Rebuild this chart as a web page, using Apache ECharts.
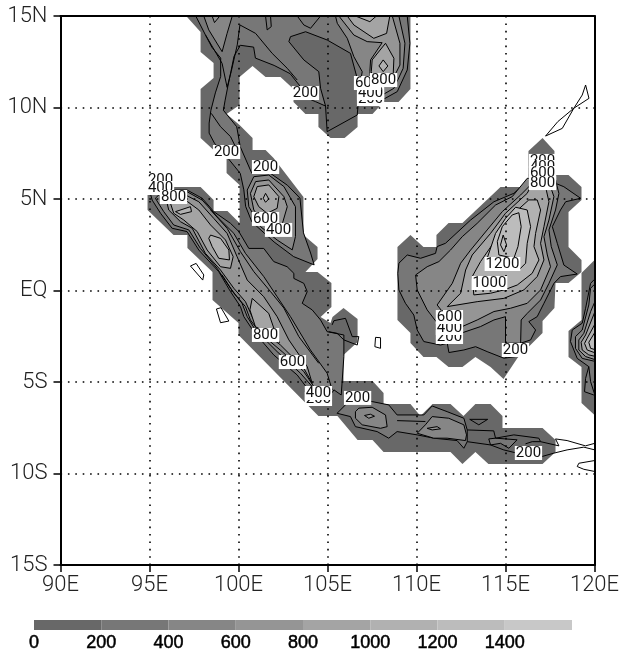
<!DOCTYPE html>
<html>
<head>
<meta charset="utf-8">
<style>html,body{margin:0;padding:0;background:#fff}#c{width:619px;height:651px}</style>
<script src="https://cdn.jsdelivr.net/npm/echarts@6/dist/echarts.min.js"></script>
</head>
<body>
<div id="c"></div>
<script>
const xTickLabels = ['90E','95E','100E','105E','110E','115E','120E'];
const yTickLabels = ['15S','10S','5S','EQ','5N','10N','15N'];
const levels = [0,200,400,600,800,1000,1200,1400];
const levelColors = ['#686868','#777777','#868686','#959595','#a4a4a4','#b1b1b1','#bcbcbc','#c8c8c8'];

// --- outermost shaded region (lon, lat) ---
const fillMain = [[97.06,15],[97.87,14.13],[97.87,13.03],[98.6,12.43],[98.6,11.61],[97.87,11.01],[97.87,8.33],[98.6,7.68],[99.33,7.68],[99.33,6.42],[100.06,5.77],[100.06,3.69],[99.38,4.34],[98.6,4.34],[98.6,4.95],[97.87,5.66],[95.06,5.66],[94.89,5.33],[94.89,4.4],[96.35,3.03],[97.13,3.03],[97.13,2.32],[98.54,1.01],[98.54,-0.52],[100,-1.78],[100,-2.43],[103.88,-6.26],[104.49,-6.86],[105.56,-6.86],[106.69,-8.17],[107.53,-8.17],[108.15,-8.83],[111.91,-8.83],[112.58,-9.48],[113.31,-8.83],[114.04,-9.48],[117.08,-9.48],[117.81,-8.83],[117.81,-8.17],[117.08,-7.51],[114.83,-7.51],[114.83,-6.86],[114.16,-6.2],[113.31,-6.2],[112.64,-6.86],[111.91,-6.2],[110.9,-6.2],[110.22,-6.86],[109.66,-6.2],[108.15,-6.2],[108.15,-5.6],[107.53,-4.95],[105.9,-4.95],[105.9,-3.52],[106.69,-2.81],[106.69,-1.56],[105.9,-0.96],[105.28,-1.45],[105.17,-1.78],[104.61,-1.45],[105.22,-0.9],[105.22,0.41],[104.44,1.01],[103.76,1.01],[104.44,1.72],[104.44,2.38],[103.65,3.03],[103.65,5.11],[101.97,7.24],[101.52,7.68],[100.79,7.68],[100.79,8.33],[100.06,9.04],[99.33,9.64],[100.06,10.14],[100.06,11.67],[100.79,12.27],[101.52,11.67],[102.36,11.67],[103.09,11.01],[103.09,10.3],[103.76,9.64],[104.49,9.64],[104.49,8.93],[105.17,8.33],[105.96,8.33],[106.69,8.93],[106.69,9.64],[107.53,9.64],[108.15,10.3],[108.99,10.3],[109.66,11.01],[109.66,15]];
const fillBorneo = [[117.08,8.33],[117.75,7.62],[117.75,6.31],[118.54,6.31],[119.27,5.66],[119.27,4.95],[118.54,4.29],[118.54,2.38],[119.27,1.67],[119.27,1.01],[118.54,0.41],[117.81,0.41],[117.75,-0.96],[117.08,-1.67],[117.08,-2.32],[116.29,-3.09],[115.67,-3.69],[114.89,-4.84],[114.16,-4.18],[113.31,-3.63],[112.58,-4.18],[111.8,-4.18],[111.12,-3.63],[110.39,-3.63],[109.66,-2.87],[109.66,-2.32],[108.93,-1.61],[108.93,2.38],[109.66,3.03],[110.39,2.38],[111.12,2.38],[111.12,3.03],[111.8,3.69],[112.58,3.69],[114.72,5.66],[116.29,5.66],[116.29,7.62]];
const fillSulawesi = [[120,1.67],[119.27,0.96],[119.27,-1.61],[118.54,-2.21],[118.54,-3.63],[119.27,-4.18],[119.27,-6.15],[120,-6.8]];

// --- Indochina / Malay peninsula ---
const n200 = [[97.6,15],[98.15,13.95],[98.5,13.3],[99,12.7],[99,11.7],[98.7,10.8],[98.45,9.85],[98.35,9.15],[98.35,8.6],[98.65,8.05],[99.35,7.3],[100.1,6.4],[100.3,5.5],[100.4,4.6],[100.75,3.75],[102,2.65],[103.1,1.85],[104.25,1.4],[104.05,2.05],[103.65,3.15],[103.45,5.05],[102.75,5.75],[101.8,6.4],[100.75,6.4],[100.1,7.85],[99.9,8.95],[99.15,9.85],[99.25,10.4],[99.4,11.15],[99.75,12.8],[100.1,13.4],[100.85,13.3],[100.95,12.7],[102,12.3],[102.9,11.85],[103.48,11.14],[103.67,10.59],[104.33,10.32],[104.89,10.08],[104.61,11.05],[104.51,11.96],[103.67,12.6],[102.83,13.6],[102.92,13.87],[103.77,14.14],[104.98,13.69],[106.29,12.96],[106.67,11.59],[106.76,10.96],[106.86,10.41],[108.07,10.41],[108.92,10.87],[109.48,12.05],[109.63,13.51],[109.48,15]];
const n400West = [[98.05,15],[98.33,14.24],[99.08,13.05],[99.36,14.05],[99.65,15]];
const n600West = [[98.52,15],[98.65,14.64],[98.95,15]];
const n400East = [[105.45,15],[105.55,14.6],[106.11,13.78],[106.48,12.78],[106.95,11.96],[106.86,11.41],[106.86,10.68],[108.07,10.68],[108.73,11.05],[109.25,12.14],[109.35,13.51],[109.01,15]];
const n600East = [[105.64,15],[106.48,13.96],[107.23,13.6],[108.07,13.54],[107.42,12.6],[107.38,11.96],[107.42,11.5],[108.64,11.5],[109.07,12.32],[109.07,13.51],[108.64,15]];
const n800Top = [[106.11,15],[106.48,14.51],[107.6,13.78],[108.32,14.05],[108.5,15]];
const n800Low = [[108.26,13.51],[108.73,12.69],[108.69,11.78],[107.6,11.5],[107.46,11.96],[107.51,12.6]];
const n1000Top = [[106.57,15],[107.38,14.69],[107.75,15]];
const n1000Low = [[108.13,12.6],[108.39,12.27],[108.13,11.96],[107.89,12.27]];
const nBandLine = [[98.15,13.96],[99.08,12.41],[99.36,11.1],[99.59,11.96],[99.93,13.42],[100.08,14.51],[100.96,14.05],[101.89,12.96],[102.74,12.14],[103.3,11.5]];
const nSagLine = [[104.89,10.08],[104.98,8.68],[106.67,9.59],[106.76,10.59]];
const nLobeLine = [[101.52,15],[101.61,14.24],[101.84,14.42],[101.8,15]];
const nArcLine = [[103.3,15],[103.67,14.51],[104.05,14.33],[104.61,15]];
const nStripLine = [[98.47,9.68],[98.99,8.95],[99.55,8.41],[99.83,7.86]];
const m400 = [[100.86,6.22],[100.49,5.49],[100.58,4.58],[101.24,3.49],[102.17,2.76],[103.02,2.22],[103.2,2.95],[103.2,4.58],[102.55,5.68],[101.7,6.31]];
const m600 = [[100.96,5.95],[100.67,5.31],[100.86,4.4],[101.42,3.67],[102.36,3.31],[102.74,4.58],[102.55,5.13],[101.7,6.04]];
const m800 = [[101.05,5.68],[100.86,5.13],[101.14,4.58],[101.61,4.22],[102.17,4.49],[102.27,5.13],[101.7,5.77]];
const m1000 = [[101.52,5.31],[101.7,5],[101.52,4.82],[101.39,5.04]];

// --- Sumatra ---
const s200 = [[95.05,5.31],[95.71,5.49],[97.11,5.49],[97.96,5.04],[98.61,4.31],[99.55,3.67],[100.02,3.22],[100.58,2.3],[101.42,2.3],[101.98,1.58],[102.73,1.3],[103.11,0.94],[103.11,0.66],[103.67,0.39],[103.86,-0.06],[103.58,-0.7],[104.14,-1.06],[104.61,-1.61],[104.98,-2.25],[105.92,-2.43],[105.92,-3.61],[105.77,-5.71],[105.36,-5.43],[104.98,-5.98],[103.86,-5.34],[103.3,-4.62],[101.98,-3.52],[100.86,-2.25],[100.3,-1.43],[100.11,-0.88],[99.55,-0.06],[98.89,1.03],[97.77,2.21],[97.11,3.22],[96.27,3.4],[95.62,4.22],[95.15,4.94]];
const s400 = [[95.71,5.4],[97.11,5.4],[97.96,4.94],[98.89,3.94],[99.74,3.12],[100.39,2.03],[101.42,0.76],[102.17,-0.34],[102.92,-1.43],[104.04,-3.25],[104.98,-4.52],[105.26,-5.43],[104.89,-5.43],[104.14,-5.25],[103.48,-4.52],[102.17,-3.34],[100.95,-2.16],[100.49,-1.43],[100.2,-0.7],[99.55,0.12],[98.8,1.21],[97.86,2.3],[97.21,3.31],[96.36,3.58],[95.8,4.31],[95.33,5.04]];
const s600 = [[95.9,5.13],[97.02,5.22],[97.77,4.85],[98.61,3.94],[99.36,3.12],[99.92,1.85],[100.49,0.57],[101.42,-0.34],[102.17,-1.43],[102.83,-2.7],[103.86,-4.16],[104.14,-5.07],[103.67,-4.25],[102.36,-2.98],[101.05,-1.98],[100.77,-1.43],[100.39,-0.61],[99.74,0.12],[98.99,1.12],[98.14,2.03],[97.4,3.4],[96.74,3.76],[96.08,4.4]];
const s800North = [[96.18,4.76],[97.02,4.94],[97.77,4.4],[98.43,3.58],[99.27,2.76],[99.7,1.85],[99.55,1.21],[98.99,1.3],[98.24,2.21],[97.68,3.22],[96.93,3.85],[96.36,4.22]];
const s800South = [[100.77,-0.43],[101.7,-1.25],[102.02,-2.16],[102.3,-2.85],[101.7,-2.34],[100.95,-1.98],[100.64,-1.06]];
const s1000A = [[96.46,4.31],[97.3,4.58],[97.36,4.31],[96.74,4.16]];
const s1000B = [[98.43,3.03],[98.99,2.85],[99.46,2.21],[99.49,1.67],[98.89,1.76],[98.52,2.4],[98.33,2.85]];
const sFlankEast = [[98.43,4.4],[99.36,3.4],[100.11,2.12],[100.86,1.03],[101.8,-0.06],[102.55,-0.96],[103.39,-2.52],[104.51,-3.98]];
const sFlankWest = [[99.08,0.85],[99.74,-0.15],[100.39,-0.88],[100.67,-1.61],[101.23,-2.34],[102.45,-3.34],[103.67,-4.43],[104.23,-5.25]];

// --- coast fragments without shading ---
const islandA = [[97.3,1.34],[97.62,1.48],[98.05,0.85],[97.99,0.57]];
const islandB = [[98.76,-1.01],[99.02,-0.94],[99.46,-1.67],[98.99,-1.76]];
const islandC = [[107.7,-2.56],[107.98,-2.58],[107.98,-3.16],[107.66,-3.07]];
const bangkaLine = [[105.26,-1.88],[105.36,-1.65],[106.01,-1.52],[106.39,-2.52],[106.76,-2.52],[106.67,-2.98],[105.92,-2.7],[105.54,-2.34],[105.07,-2.25]];
const palawanLine = [[119.31,10.68],[119.5,11.23],[119.69,10.5],[118.84,9.96],[118.19,8.86],[117.25,8.44],[117.94,9.23],[118.84,9.96],[119.31,10.68]];

// --- Java ---
const j200 = [[105.54,-6.71],[106.01,-6.25],[106.01,-5.71],[107.51,-6.07],[108.44,-6.25],[108.91,-6.8],[110.41,-6.8],[110.88,-6.31],[111.72,-6.62],[112.66,-6.98],[112.85,-7.62],[112.85,-8.26],[112.66,-8.62],[112.28,-8.2],[110.97,-8.07],[110.04,-7.89],[108.91,-7.71],[108.44,-8.07],[107.79,-7.71],[106.57,-7.44],[106.29,-6.89]];
const j400West = [[106.76,-6.43],[107.51,-6.38],[108.26,-6.8],[108.35,-7.44],[107.98,-7.53],[106.95,-7.34],[106.57,-6.98],[106.57,-6.62]];
const j600West = [[107.08,-6.83],[107.41,-6.76],[107.64,-6.87],[107.32,-6.98]];
const j400Mid = [[110.04,-7.8],[110.5,-7.34],[110.88,-6.89],[111.81,-6.98],[112.66,-7.34],[112.81,-7.89],[112.75,-8.2],[111.72,-8.07],[110.97,-8.07]];
const j600Mid = [[110.6,-7.53],[111.16,-7.44],[111.35,-7.56],[110.88,-7.62]];
const j200East = [[114.06,-8.11],[114.44,-8.07],[115.65,-8.16],[115.19,-8.62],[114.72,-8.35],[114.16,-8.44]];
const jLineA = [[108.91,-7.11],[110.5,-7.16]];
const jLineB = [[112.85,-7.62],[114.34,-7.67],[114.44,-8.07]];
const jLineB2 = [[114.16,-8.44],[112.85,-8.26]];
const jLineC = [[114.16,-8.44],[114.9,-8.71],[115.65,-8.89],[117.06,-9.07],[117.71,-8.89],[118.46,-8.71],[119.4,-8.56],[120.02,-8.71]];
const jLineD = [[114.44,-8.07],[115.47,-7.89],[116.87,-8.07],[116.97,-8.26],[118,-8.49],[117.81,-8.11],[118.46,-8.2],[119.49,-8.49],[120.02,-8.35]];
const jHook = [[116.12,-8.38],[116.5,-8.26],[116.97,-8.26]];
const jTriangle = [[112.99,-7.04],[114,-7.04],[113.5,-7.34]];
const jIslandLine = [[120.02,-9.29],[119.12,-9.44],[119.03,-9.62],[119.4,-9.77],[120.02,-9.89]];

// --- Borneo ---
const b200 = [[108.95,0.94],[109.01,1.49],[109.48,1.94],[110.23,1.76],[111.07,2.03],[111.16,2.4],[111.63,2.58],[113.04,3.85],[114.35,4.85],[115.47,5.31],[116.31,6.04],[117.35,6.04],[118.28,5.67],[119.22,5.04],[118.38,4.85],[118.09,4.4],[117.63,3.49],[117.91,2.58],[118.28,1.39],[119.03,0.9],[118.09,0.76],[117.72,0.39],[117.16,-0.7],[116.78,-1.43],[116.31,-1.7],[116.69,-2.16],[116.41,-2.7],[115.85,-2.88],[115.57,-3.61],[114.91,-3.7],[113.97,-3.34],[113.32,-3.07],[112.66,-3.25],[111.82,-3.39],[111.73,-2.88],[111.35,-2.98],[110.41,-2.79],[110.04,-2.16],[109.85,-1.34],[109.38,-0.7],[109.01,0.03]];
const b400 = [[109.95,0.85],[110.6,1.3],[111.26,1.58],[111.91,2.21],[112.57,2.94],[113.41,3.67],[114.44,4.67],[115.38,5.13],[116.22,6.13],[117.81,6.04],[118,5.3],[117.81,4.4],[117.44,3.31],[117.57,2.4],[117.91,1.4],[117.44,0.39],[116.97,-0.52],[116.22,-1.25],[115.88,-1.61],[115.85,-2.88],[115,-2.88],[115,-1.43],[114.35,-1.61],[113.6,-1.97],[112.48,-2.34],[111.82,-2.61],[110.6,-1.06],[110.04,0.03]];
const b600 = [[111.16,-0.79],[112.01,0.39],[112.48,1.49],[113.04,2.21],[113.97,3.31],[114.82,4.31],[115.85,5.22],[116.41,5.77],[117.53,5.67],[117.72,5.13],[117.44,3.85],[117.16,2.94],[117.35,1.94],[117.53,1.3],[116.97,0.03],[116.22,-0.7],[115.28,-0.97],[114.35,-1.15],[113.41,-1.61],[112.57,-1.97],[111.82,-1.61]];
const b800 = [[111.73,-0.88],[112.48,-0.15],[112.76,1.12],[113.13,1.94],[114.16,3.12],[115,4.22],[116.22,5.31],[116.41,5.67],[117.25,5.67],[117.44,4.85],[117.16,3.49],[116.97,2.58],[117.16,1.67],[116.78,0.76],[116.03,0.03],[114.91,-0.43],[113.41,-0.61]];
const b1000 = [[113.22,-0.24],[113.13,0.76],[113.6,1.58],[114.44,2.76],[115.28,4.04],[116.31,4.95],[116.78,4.95],[116.97,4.4],[116.69,3.12],[116.6,2.4],[116.88,1.67],[116.5,0.94],[115.66,0.3],[114.91,0.03],[114.16,-0.15]];
const b1200 = [[113.97,1.76],[114.44,3.12],[115,3.94],[115.57,4.55],[116.22,4.4],[116.41,3.49],[116.22,2.58],[116.13,1.49],[115.75,1.12],[113.97,1.12]];
const b1400 = [[114.63,1.94],[114.54,2.67],[114.82,3.49],[115.38,4.13],[115.75,4.25],[115.88,3.49],[115.7,2.4],[115.47,1.76]];
const bDiamond = [[114.87,3.03],[115.06,2.49],[114.91,2.12],[114.72,2.49]];

// --- Sulawesi ---
const su200 = [[120.1,0.57],[119.96,0.57],[119.78,0.39],[119.5,-0.97],[119.31,-1.79],[118.75,-2.16],[118.65,-2.79],[119.03,-3.71],[119.68,-4.16],[119.5,-4.8],[119.44,-5.53],[119.96,-5.71],[120.1,-5.71]];
const su400 = [[120.1,0.3],[119.96,0.3],[119.78,0.12],[119.68,-0.79],[119.31,-2.16],[118.93,-2.52],[118.93,-3.16],[119.31,-3.71],[120.1,-3.89]];
const su600 = [[120.1,-0.43],[119.78,-1.16],[119.4,-2.34],[119.12,-2.7],[119.12,-3.25],[119.5,-3.61],[120.1,-3.8]];
const su800 = [[120.1,-0.97],[119.5,-2.43],[119.25,-2.83],[119.31,-3.25],[119.68,-3.52],[120.1,-3.61]];
const su1000 = [[120.1,-1.7],[119.59,-2.61],[119.44,-2.89],[119.59,-3.25],[120.1,-3.43]];
const su1200 = [[120.1,-2.16],[119.68,-2.83],[119.78,-3.16],[120.1,-3.25]];
const suLine = [[119.68,-4.16],[119.78,-4.98],[120.02,-5.71]];

// --- in-line contour labels: lon, lat, text ---
const contourLabels = [
 [103.76,10.79,'200'],[107.42,10.46,'200'],[107.42,10.79,'400'],[107.25,11.34,'600'],[108.15,11.5,'800'],
 [99.33,7.57,'200'],[101.52,6.75,'200'],[101.52,3.91,'600'],[102.25,3.31,'400'],
 [95.62,6.04,'200'],[95.62,5.6,'400'],[96.35,5.11,'800'],
 [101.52,-2.43,'800'],[103.03,-3.91,'600'],[104.49,-5.93,'200'],[104.49,-5.6,'400'],
 [106.69,-5.87,'200'],[116.29,-8.88,'200'],
 [117.08,7.08,'200'],[117.08,6.75,'400'],[117.08,6.42,'600'],[117.08,5.87,'800'],
 [114.83,1.45,'1200'],[114.1,0.41,'1000'],
 [111.85,-2.54,'200'],[111.85,-2.05,'400'],[111.85,-1.45,'600'],[115.56,-3.25,'200']
];

// paint order: level index (-1 = unfilled), points, closed, outlined
const shapes = [
 [0,fillMain,1,0],[0,fillBorneo,1,0],[0,fillSulawesi,1,0],
 [1,n200,1,1],[2,n400West,1,1],[3,n600West,1,1],[2,n400East,1,1],[3,n600East,1,1],[4,n800Top,1,1],[4,n800Low,1,1],[5,n1000Top,1,1],[5,n1000Low,1,1],
 [2,m400,1,1],[3,m600,1,1],[4,m800,1,1],[5,m1000,1,1],
 [1,s200,1,1],[2,s400,1,1],[3,s600,1,1],[4,s800North,1,1],[4,s800South,1,1],[5,s1000A,1,1],[5,s1000B,1,1],
 [1,j200,1,1],[2,j400West,1,1],[3,j600West,1,1],[2,j400Mid,1,1],[3,j600Mid,1,1],[1,j200East,1,1],
 [1,b200,1,1],[2,b400,1,1],[3,b600,1,1],[4,b800,1,1],[5,b1000,1,1],[6,b1200,1,1],[6,b1400,1,1],[6,bDiamond,1,1],
 [1,su200,1,1],[2,su400,1,1],[3,su600,1,1],[4,su800,1,1],[5,su1000,1,1],[6,su1200,1,1],
 [-1,islandA,1,1],[-1,islandB,1,1],[-1,islandC,1,1],[-1,jTriangle,1,1],
 [-1,nBandLine,0,1],[-1,nSagLine,0,1],[-1,nLobeLine,0,1],[-1,nArcLine,0,1],[-1,nStripLine,0,1],
 [-1,sFlankEast,0,1],[-1,sFlankWest,0,1],
 [-1,bangkaLine,0,1],[-1,palawanLine,0,1],[-1,jLineA,0,1],[-1,jLineB,0,1],[-1,jLineB2,0,1],[-1,jLineC,0,1],[-1,jLineD,0,1],[-1,jHook,0,1],[-1,jIslandLine,0,1],[-1,suLine,0,1]
];

const tickFont = {fontFamily:'Roboto',fontWeight:300,fontSize:22,color:'#222'};
const chart = echarts.init(document.getElementById('c'),null,{renderer:'canvas'});
chart.setOption({
  animation:false,
  backgroundColor:'#fff',
  grid:[
    {left:60.5,top:16,width:534,height:549,containLabel:false,outerBoundsMode:'none'},
    {left:34,top:620,width:538,height:10,containLabel:false,outerBoundsMode:'none'}
  ],
  xAxis:[
    {type:'value',gridIndex:0,position:'bottom',min:90,max:120,interval:5,z:5,
      axisLine:{onZero:false,lineStyle:{color:'#000',width:2}},
      axisTick:{length:7,lineStyle:{color:'#000',width:1.5}},
      axisLabel:Object.assign({margin:9,showMaxLabel:true,showMinLabel:true,hideOverlap:false,
        formatter:v=>xTickLabels[(v-90)/5]},tickFont),
      splitLine:{show:true,lineStyle:{color:'#000',width:1.6,type:[1.6,5.8]}}},
    {type:'value',gridIndex:0,position:'top',min:90,max:120,interval:5,z:5,
      axisLine:{onZero:false,lineStyle:{color:'#000',width:2}},axisTick:{show:false},axisLabel:{show:false},splitLine:{show:false}},
    {type:'value',gridIndex:1,min:0,max:1600,interval:200,
      axisLine:{show:false},axisTick:{show:false},splitLine:{show:false},
      axisLabel:{margin:4,fontFamily:'Liberation Sans',fontWeight:'normal',fontSize:18,color:'#000',textBorderColor:'#000',textBorderWidth:0.5,showMaxLabel:true,
        formatter:v=>levels.includes(v)?String(v):''}}
  ],
  yAxis:[
    {type:'value',gridIndex:0,position:'left',min:-15,max:15,interval:5,z:5,
      axisLine:{onZero:false,lineStyle:{color:'#000',width:2}},
      axisTick:{length:7,lineStyle:{color:'#000',width:1.5}},
      axisLabel:Object.assign({margin:13,showMaxLabel:true,showMinLabel:true,hideOverlap:false,
        formatter:v=>yTickLabels[(v+15)/5]},tickFont),
      splitLine:{show:true,lineStyle:{color:'#000',width:1.6,type:[1.6,5.8]}}},
    {type:'value',gridIndex:0,position:'right',min:-15,max:15,interval:5,z:5,
      axisLine:{onZero:false,lineStyle:{color:'#000',width:2}},axisTick:{show:false},axisLabel:{show:false},splitLine:{show:false}},
    {type:'value',gridIndex:1,min:0,max:1,show:false}
  ],
  series:[
    {type:'custom',coordinateSystem:'cartesian2d',xAxisIndex:0,yAxisIndex:0,clip:true,silent:true,z:2,
      data:shapes.map((s,i)=>[i]),
      encode:{x:[],y:[]},
      renderItem:(params,api)=>{
        const s=shapes[params.dataIndex];
        const pts=s[1].map(p=>api.coord(p));
        return {type:s[2]?'polygon':'polyline',shape:{points:pts},
          style:{fill:s[0]>=0?levelColors[s[0]]:null,stroke:s[3]?'#000':null,lineWidth:s[3]?1:0,lineJoin:'round'}};
      }},
    {type:'scatter',xAxisIndex:0,yAxisIndex:0,silent:true,z:8,symbolSize:0,clip:false,itemStyle:{opacity:1},
      data:contourLabels.map(l=>({value:[l[0],l[1]],name:l[2]})),
      label:{show:true,position:'inside',opacity:1,formatter:p=>p.name,fontFamily:'Roboto',fontSize:15,color:'#111',
        backgroundColor:'#fff',padding:[1,1,0,1],lineHeight:13}},
    {type:'custom',coordinateSystem:'cartesian2d',xAxisIndex:2,yAxisIndex:2,silent:true,clip:false,
      data:levels.map((v,i)=>[v]),
      encode:{x:0},
      renderItem:(params,api)=>{
        const v=levels[params.dataIndex];
        const a=api.coord([v,1]),b=api.coord([v+200,0]);
        return {type:'rect',shape:{x:a[0],y:a[1],width:b[0]-a[0],height:b[1]-a[1]},
          style:{fill:levelColors[params.dataIndex]}};
      }}
  ]
});
</script>
</body>
</html>
